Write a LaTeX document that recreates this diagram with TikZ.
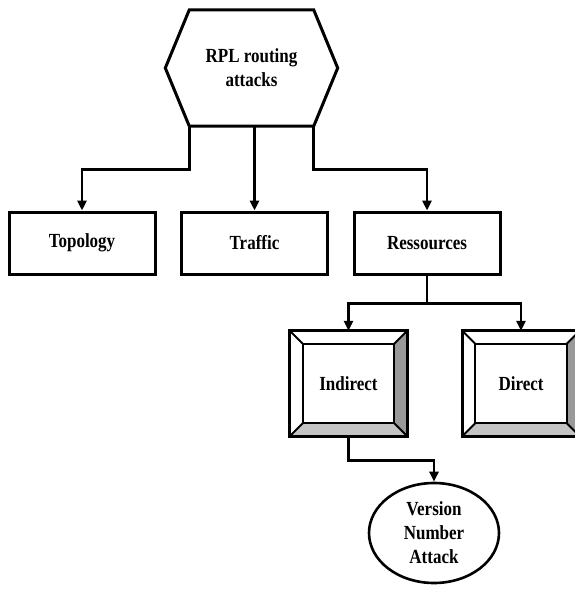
\documentclass[tikz,border=0pt]{standalone}
\usepackage{fontspec}
\setmainfont{Liberation Serif}[FakeStretch=0.85]
\usetikzlibrary{arrows.meta,shapes.geometric}

\begin{document}
\begin{tikzpicture}[x=1pt,y=-1pt,
    every node/.style={font=\fontsize{20}{24}\selectfont\bfseries, align=center},
    catbox/.style={draw, line width=3pt, minimum width=146pt, minimum height=62pt},
    bevelbox/.style={minimum width=117pt, minimum height=105pt},
    link/.style={line width=2.6pt, -{Triangle[width=9pt,length=10pt]}}]

    \useasboundingbox (0,0) rectangle (575,589);

    % root hexagon
    \node (root) [minimum width=124pt, minimum height=116pt, inner sep=0pt] at (251.5,68) {RPL routing\\attacks};
    \draw[line width=3pt] (root.north west) -- (root.north east) -- ([xshift=24pt]root.east)
        -- (root.south east) -- (root.south west) -- ([xshift=-24pt]root.west) -- cycle;

    % categories
    \node (topo) [catbox] at (82,243) {Topology};
    \node (traffic) [catbox] at (254.5,243) {Traffic};
    \node (res) [catbox] at (427,243) {Ressources};

    % indirect / direct
    \node (ind) [bevelbox] at (348.5,383.5) {Indirect};
    \node (dir) [bevelbox] at (521,383.5) {Direct};

    \foreach \b in {ind,dir} {
        \fill[gray!46] (\b.south west) -- (\b.south east) -- ([shift={(-13,-13)}]\b.south east)
            -- ([shift={(13,-13)}]\b.south west) -- cycle;
        \fill[gray!80] (\b.north east) -- (\b.south east) -- ([shift={(-13,-13)}]\b.south east)
            -- ([shift={(-13,13)}]\b.north east) -- cycle;
        \draw[line width=2pt] ([shift={(13,13)}]\b.north west) rectangle ([shift={(-13,-13)}]\b.south east);
        \draw[line width=2pt] (\b.north west) -- ([shift={(13,13)}]\b.north west)
            (\b.north east) -- ([shift={(-13,13)}]\b.north east)
            (\b.south east) -- ([shift={(-13,-13)}]\b.south east)
            (\b.south west) -- ([shift={(13,-13)}]\b.south west);
        \draw[line width=3pt] (\b.north west) rectangle (\b.south east);
    }

    % attack
    \node (vna) [draw, ellipse, line width=2.6pt, minimum width=130pt, minimum height=100pt, inner sep=0pt]
        at (434,533) {Version\\Number\\Attack};

    % links
    \draw[link] (root.south west) -- ++(0,43) -| (topo.north);
    \draw[link] (root.south -| traffic.north) -- (traffic.north);
    \draw[link] (root.south east) -- ++(0,43) -| (res.north);
    \draw[link] (res.south) -- ++(0,28) -| (ind.north);
    \draw[link] (res.south) -- ++(0,28) -| (dir.north);
    \draw[link] (ind.south) -- ++(0,24) -| (vna.north);

\end{tikzpicture}
\end{document}
